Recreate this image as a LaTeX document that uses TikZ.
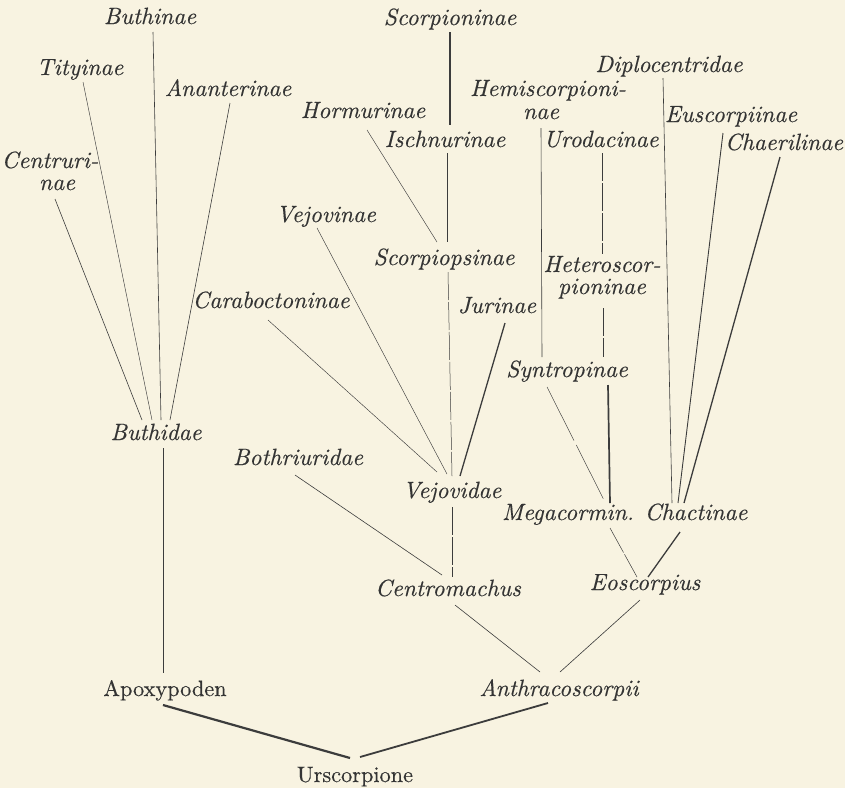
\documentclass[tikz,border=0pt]{standalone}
\usepackage{fontspec}
\newfontface\lmitface{lmroman10-italic.otf}[FakeBold=0.3]
\newfontface\lmrmface{lmroman10-regular.otf}[FakeBold=0.3]
\definecolor{paper}{RGB}{248,243,225}
\definecolor{ink}{RGB}{52,52,52}
\definecolor{linecol}{RGB}{60,60,60}
\begin{document}
\begin{tikzpicture}[x=1pt,y=-1pt,
  lbl/.style={anchor=base,inner sep=0pt,text=ink,font=\lmitface\fontsize{23.5}{27}\selectfont},
  lblr/.style={anchor=base,inner sep=0pt,text=ink,font=\lmrmface\fontsize{22.3}{27}\selectfont},
  edge/.style={draw=linecol,line width=0.6pt},
  thinedge/.style={draw=linecol,line width=0.45pt},
  midedge/.style={draw=linecol,line width=0.9pt},
  boldedge/.style={draw=linecol,line width=1.3pt},
  heavyedge/.style={draw=linecol,line width=2pt},
  brk/.style={draw=linecol,line width=0.5pt,dash pattern=on 28pt off 2pt}]
\fill[paper] (0,0) rectangle (845,788);
\useasboundingbox (0,0) rectangle (845,788);
% labels
\node[lbl] (buthinae) at (150,24) {Buthinae};
\node[lbl] (tityinae) at (80,75) {Tityinae};
\node[lbl] (ananterinae) at (228,96) {Ananterinae};
\node[lbl] (centruri) at (50,168) {Centruri-};
\node[lbl] (centrnae) at (57,190) {nae};
\node[lbl] (scorpioninae) at (450,25) {Scorpioninae};
\node[lbl] (hormurinae) at (363,118) {Hormurinae};
\node[lbl] (ischnurinae) at (445,147) {Ischnurinae};
\node[lbl] (hemiscorp) at (548,96) {Hemiscorpioni-};
\node[lbl] (hemisnae) at (541,119) {nae};
\node[lbl] (urodacinae) at (601,147) {Urodacinae};
\node[lbl] (diplocentridae) at (669,72) {Diplocentridae};
\node[lbl] (euscorpiinae) at (731,122) {Euscorpiinae};
\node[lbl] (chaerilinae) at (784,150) {Chaerilinae};
\node[lbl] (vejovinae) at (326,222) {Vejovinae};
\node[lbl] (scorpiopsinae) at (444,265) {Scorpiopsinae};
\node[lbl] (heteroscor) at (602,272) {Heteroscor-};
\node[lbl] (pioninae) at (602,294) {pioninae};
\node[lbl] (jurinae) at (497,313) {Jurinae};
\node[lbl] (caraboctoninae) at (271,308) {Caraboctoninae};
\node[lbl] (syntropinae) at (567,377) {Syntropinae};
\node[lbl] (bothriuridae) at (298,465) {Bothriuridae};
\node[lbl] (buthidae) at (156,440) {Buthidae};
\node[lbl] (vejovidae) at (452,498) {Vejovidae};
\node[lbl] (megacormin) at (568,520) {Megacormin.};
\node[lbl] (chactinae) at (696,520) {Chactinae};
\node[lbl] (centromachus) at (448,596) {Centromachus};
\node[lbl] (eoscorpius) at (645,590) {Eoscorpius};
\node[lbl] (anthraco) at (559,696) {Anthracoscorpii};
\node[lblr] (apoxypoden) at (165,696) {Apoxypoden};
\node[lblr] (urscorpione) at (355,782) {Urscorpione};
% connectors
\draw[edge] ([xshift=3pt,yshift=-8pt]buthinae.base) -- ([xshift=5pt,yshift=20pt]buthidae.base);
\draw[thinedge] ([xshift=3pt,yshift=-7pt]tityinae.base) -- ([xshift=-4pt,yshift=20pt]buthidae.base);
\draw[edge] ([xshift=2pt,yshift=-7pt]ananterinae.base) -- ([xshift=14pt,yshift=20pt]buthidae.base);
\draw[edge] ([xshift=-2pt,yshift=-9pt]centrnae.base) -- ([xshift=-14pt,yshift=20pt]buthidae.base);
\draw[edge] ([xshift=7pt,yshift=-8pt]buthidae.base) -- ([xshift=-2pt,yshift=23pt]apoxypoden.base);
\draw[boldedge] ([yshift=-7pt]scorpioninae.base) -- ([xshift=5pt,yshift=22pt]ischnurinae.base);
\draw[midedge] ([xshift=2pt,yshift=-6pt]ischnurinae.base) -- ([xshift=3pt,yshift=23pt]scorpiopsinae.base);
\draw[thinedge] ([xshift=4pt,yshift=-12pt]hormurinae.base) -- ([xshift=-7pt,yshift=23pt]scorpiopsinae.base);
\draw[brk] ([xshift=4pt,yshift=-7pt]scorpiopsinae.base) -- ([yshift=22pt]vejovidae.base);
\draw[thinedge] ([xshift=-9pt,yshift=-6pt]vejovinae.base) -- ([xshift=-5pt,yshift=24pt]vejovidae.base);
\draw[thinedge] ([xshift=-3pt,yshift=-12pt]caraboctoninae.base) -- ([xshift=-15pt,yshift=26pt]vejovidae.base);
\draw[boldedge] ([xshift=8pt,yshift=-10pt]jurinae.base) -- ([xshift=8pt,yshift=22pt]vejovidae.base);
\draw[brk] ([yshift=-9pt]vejovidae.base) -- ([xshift=4pt,yshift=19pt]centromachus.base);
\draw[edge] ([xshift=-3pt,yshift=-10pt]bothriuridae.base) -- ([xshift=-6pt,yshift=21pt]centromachus.base);
\draw[edge] ([yshift=-9pt]hemisnae.base) -- ([xshift=-25pt,yshift=20pt]syntropinae.base);
\draw[brk] ([xshift=1pt,yshift=-6pt]urodacinae.base) -- ([yshift=18pt]heteroscor.base);
\draw[brk] ([xshift=1pt,yshift=-14pt]pioninae.base) -- ([xshift=36pt,yshift=20pt]syntropinae.base);
\draw[thinedge,dash pattern=on 60pt off 5pt] ([xshift=-20pt,yshift=-10pt]syntropinae.base) -- ([xshift=37pt,yshift=18pt]megacormin.base);
\draw[heavyedge,line width=1.7pt] ([xshift=41pt,yshift=-8pt]syntropinae.base) -- ([xshift=42pt,yshift=17pt]megacormin.base);
\draw[edge] ([xshift=-6pt,yshift=-6pt]diplocentridae.base) -- ([xshift=-24pt,yshift=17pt]chactinae.base);
\draw[midedge] ([xshift=-8pt,yshift=-11pt]euscorpiinae.base) -- ([xshift=-18pt,yshift=17pt]chactinae.base);
\draw[boldedge] ([xshift=-4pt,yshift=-7pt]chaerilinae.base) -- ([xshift=-12pt,yshift=17pt]chactinae.base);
\draw[brk] ([xshift=42pt,yshift=-8pt]megacormin.base) -- ([xshift=-8pt,yshift=13pt]eoscorpius.base);
\draw[boldedge] ([xshift=-16pt,yshift=-12pt]chactinae.base) -- ([xshift=3pt,yshift=13pt]eoscorpius.base);
\draw[edge] ([xshift=7pt,yshift=-9pt]centromachus.base) -- ([xshift=-19pt,yshift=24pt]anthraco.base);
\draw[edge] ([xshift=-5pt,yshift=-10pt]eoscorpius.base) -- ([xshift=1pt,yshift=24pt]anthraco.base);
\draw[heavyedge,line width=2.2pt] ([xshift=-2pt,yshift=-9pt]apoxypoden.base) -- ([xshift=-5pt,yshift=24pt]urscorpione.base);
\draw[heavyedge,line width=1.8pt] ([xshift=-11pt,yshift=-7pt]anthraco.base) -- ([xshift=5pt,yshift=25pt]urscorpione.base);
\end{tikzpicture}
\end{document}
